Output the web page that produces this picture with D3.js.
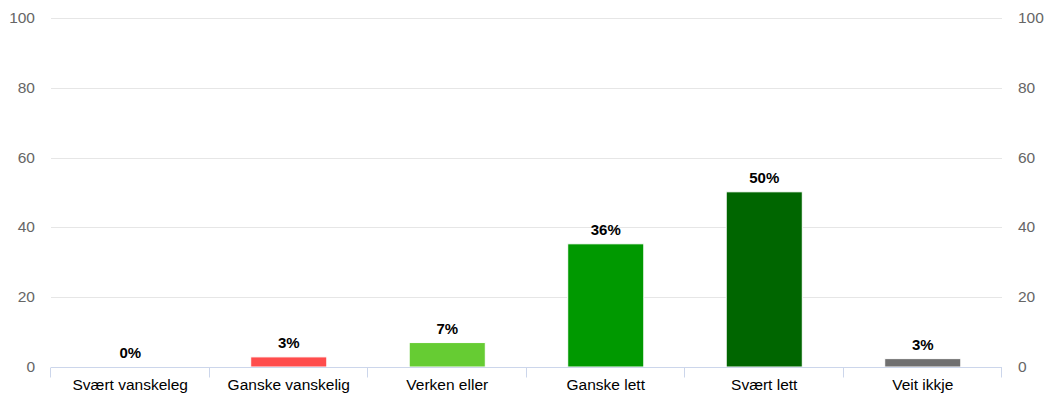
<!DOCTYPE html>
<html>
<head>
<meta charset="utf-8">
<script src="https://cdn.jsdelivr.net/npm/d3@7"></script>
<style>
  html, body { margin: 0; padding: 0; background: #fff; }
  svg { display: block; font-family: "Liberation Sans", Arial, sans-serif; }
</style>
</head>
<body>
<svg id="chart" width="1048" height="393"></svg>
<script>
const categories = ["Svært vanskeleg", "Ganske vanskelig", "Verken eller", "Ganske lett", "Svært lett", "Veit ikkje"];
const values = [0, 2.9, 7, 35.3, 50.2, 2.4];
const valueLabels = ["0%", "3%", "7%", "36%", "50%", "3%"];
const barColors = ["#ff4c4c", "#ff4c4c", "#66cc33", "#009900", "#006600", "#707070"];
const yTicks = [0, 20, 40, 60, 80, 100];

const svg = d3.select("#chart");
const margin = { left: 51, right: 46, top: 18, bottom: 26 };
const W = 1048, H = 393;
const x = d3.scaleBand().domain(categories).range([margin.left, W - margin.right]).paddingInner(0).paddingOuter(0);
const y = d3.scaleLinear().domain([0, 100]).range([H - margin.bottom, margin.top]);

// gridlines
svg.append("g").selectAll("line").data(yTicks.filter(d => d > 0)).join("line")
  .attr("x1", margin.left).attr("x2", W - margin.right)
  .attr("y1", d => Math.round(y(d)) + 0.5).attr("y2", d => Math.round(y(d)) + 0.5)
  .attr("stroke", "#e6e6e6").attr("stroke-width", 1);

// left axis labels
svg.append("g").selectAll("text").data(yTicks).join("text")
  .attr("x", 35).attr("y", d => y(d) + 5)
  .attr("text-anchor", "end").attr("fill", "#666666").attr("font-size", "15.5px")
  .text(d => d);

// right axis labels
svg.append("g").selectAll("text").data(yTicks).join("text")
  .attr("x", 1018).attr("y", d => y(d) + 5)
  .attr("text-anchor", "start").attr("fill", "#666666").attr("font-size", "15.5px")
  .text(d => d);

// bars
const bw = x.bandwidth() * 0.48;
svg.append("g").selectAll("rect").data(categories).join("rect")
  .attr("x", d => x(d) + (x.bandwidth() - bw) / 2)
  .attr("width", bw)
  .attr("y", (d, i) => y(values[i]))
  .attr("height", (d, i) => y(0) - y(values[i]))
  .attr("fill", (d, i) => barColors[i])
  .attr("stroke", "#ffffff").attr("stroke-width", 1);

// value labels
svg.append("g").selectAll("text").data(categories).join("text")
  .attr("x", d => x(d) + x.bandwidth() / 2)
  .attr("y", (d, i) => y(values[i]) - 9)
  .attr("text-anchor", "middle").attr("font-weight", "bold").attr("font-size", "15px")
  .attr("fill", "#000")
  .text((d, i) => valueLabels[i]);

// x axis line
const y0 = Math.round(y(0)) + 0.5;
svg.append("line").attr("x1", margin.left).attr("x2", W - margin.right)
  .attr("y1", y0).attr("y2", y0).attr("stroke", "#ccd6eb").attr("stroke-width", 1);

// ticks at band boundaries
const bounds = categories.map(d => x(d)).concat([W - margin.right]);
svg.append("g").selectAll("line").data(bounds).join("line")
  .attr("x1", d => Math.round(d) - 0.5).attr("x2", d => Math.round(d) - 0.5)
  .attr("y1", y0).attr("y2", y0 + 10)
  .attr("stroke", "#ccd6eb").attr("stroke-width", 1);

// category labels
svg.append("g").selectAll("text").data(categories).join("text")
  .attr("x", d => x(d) + x.bandwidth() / 2)
  .attr("y", y0 + 22)
  .attr("text-anchor", "middle").attr("font-size", "15.5px").attr("fill", "#000")
  .text(d => d);
</script>
</body>
</html>
